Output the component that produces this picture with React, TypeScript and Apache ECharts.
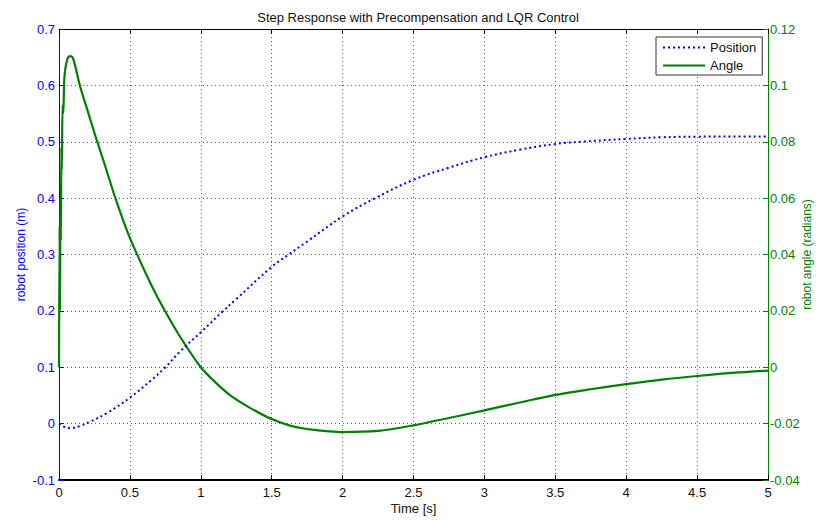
import React, { useEffect, useRef } from "react";
import * as echarts from "echarts";

const chartTitle = "Step Response with Precompensation and LQR Control";
const xName = "Time [s]";
const leftName = "robot position (m)";
const rightName = "robot angle (radians)";
const seriesNames = ["Position", "Angle"];

const timePos = [0, 0.04, 0.08, 0.15, 0.22, 0.34, 0.5, 0.65, 0.75, 0.85, 1.0, 1.15, 1.25, 1.5, 1.62, 1.75, 2.0, 2.23, 2.5, 2.75, 3.0, 3.25, 3.5, 3.68, 4.0, 4.25, 4.5, 4.75, 5.0];
const position = [0, -0.006, -0.008, -0.004, 0.0035, 0.019, 0.046, 0.077, 0.1, 0.127, 0.162, 0.198, 0.221, 0.278, 0.3, 0.323, 0.3675, 0.4, 0.4325, 0.454, 0.4725, 0.486, 0.496, 0.5, 0.505, 0.508, 0.509, 0.5095, 0.5095];

const timeAng = [0, 0.004, 0.007, 0.01, 0.013, 0.017, 0.02, 0.025, 0.03, 0.037, 0.045, 0.055, 0.065, 0.08, 0.1, 0.148, 0.2, 0.266, 0.33, 0.394, 0.474, 0.548, 0.65, 0.736, 0.853, 1.0, 1.1, 1.21, 1.35, 1.5, 1.635, 1.75, 2.0, 2.25, 2.5, 2.75, 3.0, 3.25, 3.5, 3.75, 4.0, 4.25, 4.5, 4.75, 5.0];
const angle = [0, 0.05, 0.02, 0.06, 0.045, 0.078, 0.07, 0.093, 0.09, 0.102, 0.106, 0.1085, 0.11, 0.1104, 0.1095, 0.0998, 0.0913, 0.0806, 0.0707, 0.0605, 0.0492, 0.0403, 0.0293, 0.021, 0.0109, 0, -0.0052, -0.0101, -0.0145, -0.0184, -0.0208, -0.0219, -0.023, -0.0226, -0.0206, -0.018, -0.0153, -0.0125, -0.0098, -0.0078, -0.006, -0.0044, -0.0031, -0.002, -0.0012];

const FONT = "Liberation Sans, Arial, sans-serif";
const FS = 13;
const BLUE = "#0000ff";
const GREEN = "#008000";

export default function App() {
  const ref = useRef<HTMLDivElement>(null);
  useEffect(() => {
    if (!ref.current) return;
    const chart = echarts.init(ref.current, undefined, { renderer: "svg" });
    const posData = timePos.map((t, i) => [t, position[i]]);
    const angData = timeAng.map((t, i) => [t, angle[i]]);
    chart.setOption({
      animation: false,
      backgroundColor: "#fff",
      title: {
        text: chartTitle,
        left: 413,
        top: 6,
        textAlign: "center",
        textStyle: { fontFamily: FONT, fontSize: FS, fontWeight: "normal", color: "#111" },
      },
      legend: {
        data: seriesNames,
        orient: "vertical",
        left: 656,
        top: 37,
        padding: [4, 6, 3, 6],
        itemGap: 5,
        itemWidth: 42,
        itemHeight: 14,
        backgroundColor: "#fff",
        borderColor: "#333",
        borderWidth: 1,
        borderRadius: 0,
        itemStyle: { opacity: 0 },
        textStyle: { fontFamily: FONT, fontSize: FS, color: "#111" },
      },
      grid: { left: 59, right: 48, top: 29, bottom: 40, containLabel: false, outerBoundsMode: "none" },
      xAxis: [
        {
          type: "value",
          min: 0,
          max: 5,
          interval: 0.5,
          name: xName,
          nameLocation: "middle",
          nameGap: 22,
          nameMoveOverlap: false,
          nameTextStyle: { fontFamily: FONT, fontSize: FS, color: "#111" },
          axisLine: { onZero: false, lineStyle: { color: "#000", width: 2 } },
          axisTick: { inside: true, length: 5, lineStyle: { color: "#000" } },
          axisLabel: { fontFamily: FONT, fontSize: FS, color: "#111", margin: 6 },
          splitLine: { show: true, lineStyle: { color: "#555", type: [1, 3], width: 1 } },
        },
        {
          type: "value",
          position: "top",
          min: 0,
          max: 5,
          interval: 0.5,
          axisLine: { show: true, onZero: false, lineStyle: { color: "#000", width: 1 } },
          axisTick: { inside: true, length: 5, lineStyle: { color: "#000" } },
          axisLabel: { show: false },
          splitLine: { show: false },
        },
      ],
      yAxis: [
        {
          type: "value",
          min: -0.1,
          max: 0.7,
          interval: 0.1,
          name: leftName,
          nameLocation: "middle",
          nameRotate: 90,
          nameGap: 32,
          nameMoveOverlap: false,
          nameTextStyle: { fontFamily: FONT, fontSize: 12, color: BLUE },
          axisLine: { show: true, onZero: false, lineStyle: { color: BLUE, width: 1 } },
          axisTick: { show: true, inside: true, length: 5, lineStyle: { color: BLUE } },
          axisLabel: { fontFamily: FONT, fontSize: FS, color: BLUE, margin: 4 },
          splitLine: { show: true, lineStyle: { color: "#5050ff", type: [1, 3], width: 1 } },
        },
        {
          type: "value",
          min: -0.04,
          max: 0.12,
          interval: 0.02,
          name: rightName,
          nameLocation: "middle",
          nameRotate: 90,
          nameGap: 33,
          nameMoveOverlap: false,
          nameTextStyle: { fontFamily: FONT, fontSize: 12, color: GREEN },
          axisLine: { show: true, onZero: false, lineStyle: { color: GREEN, width: 1 } },
          axisTick: { show: true, inside: true, length: 5, lineStyle: { color: GREEN } },
          axisLabel: { fontFamily: FONT, fontSize: FS, color: GREEN, margin: 2 },
          splitLine: { show: false },
        },
      ],
      series: [
        {
          name: seriesNames[0],
          type: "line",
          yAxisIndex: 0,
          data: posData,
          smooth: 0.4,
          showSymbol: false,
          symbol: "none",
          lineStyle: { color: BLUE, width: 2, type: [2, 3] },
          itemStyle: { color: BLUE },
          z: 3,
        },
        {
          name: seriesNames[1],
          type: "line",
          yAxisIndex: 1,
          data: angData,
          smooth: 0.3,
          showSymbol: false,
          symbol: "none",
          lineStyle: { color: GREEN, width: 2.2 },
          itemStyle: { color: GREEN },
          z: 2,
        },
      ],
    });
    return () => chart.dispose();
  }, []);
  return <div ref={ref} style={{ width: 816, height: 520, position: "absolute", left: 0, top: 0 }} />;
}
